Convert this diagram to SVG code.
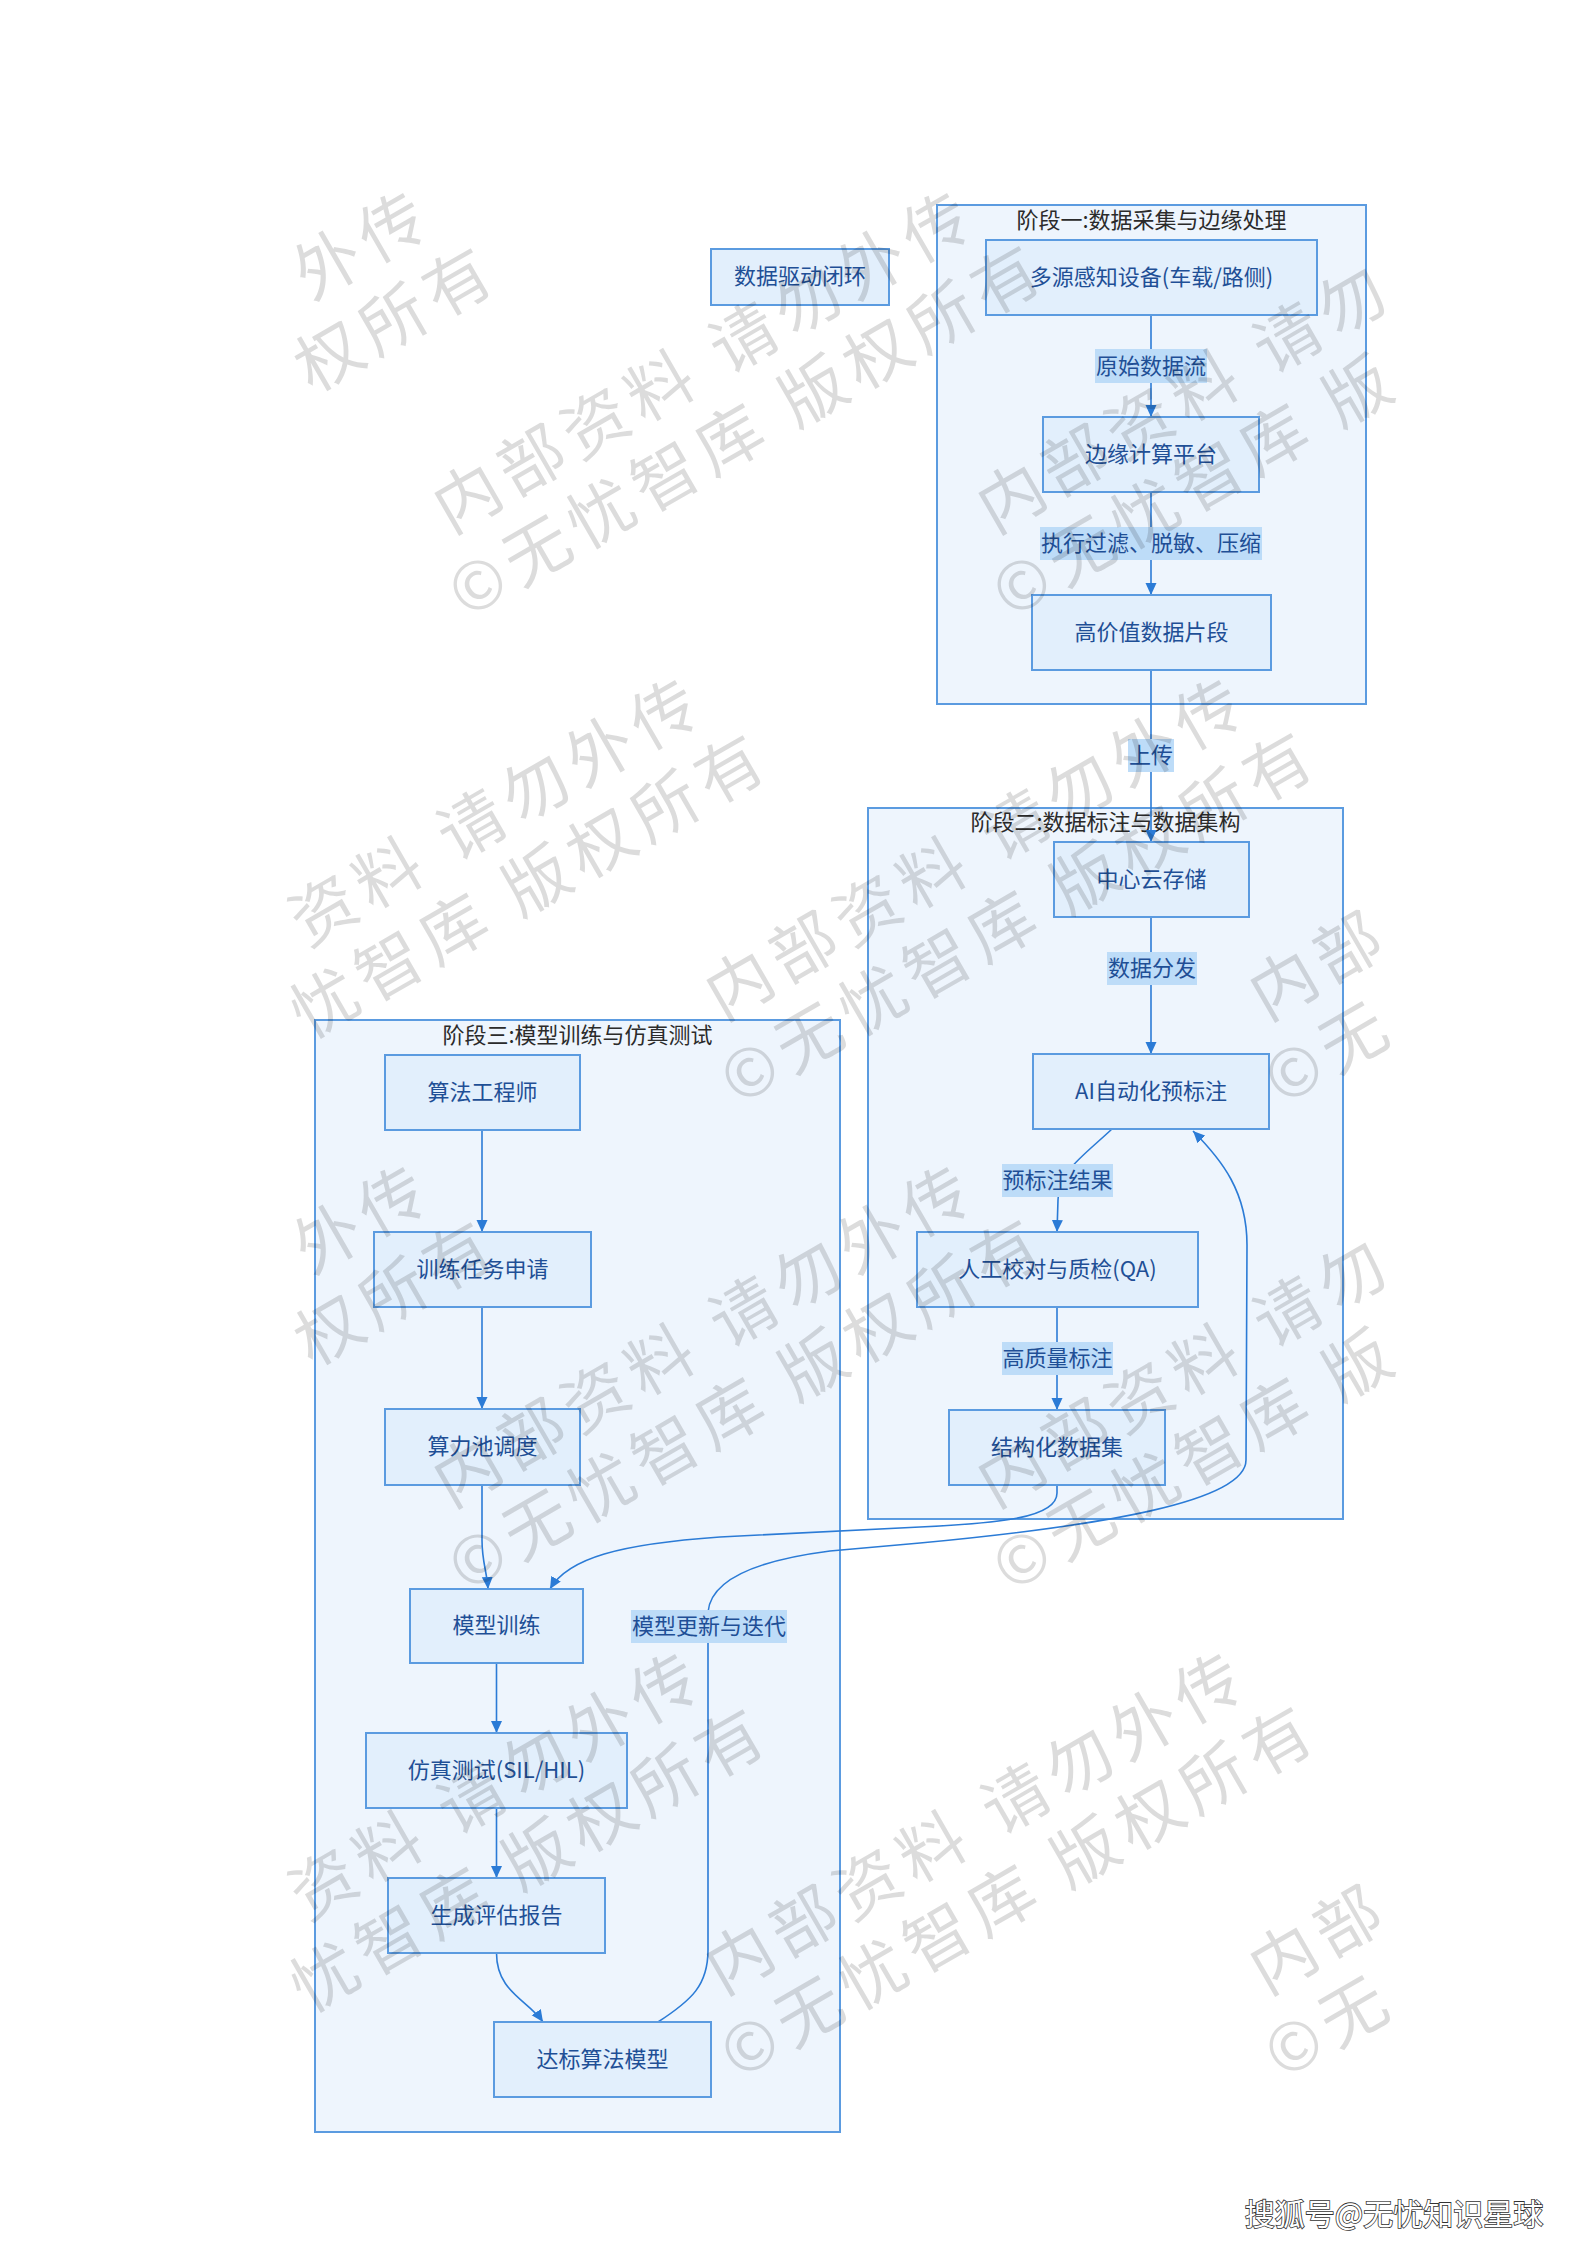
<svg xmlns="http://www.w3.org/2000/svg" width="1587" height="2245" viewBox="0 0 1587 2245">
<style>
text{font-family:"Noto Sans CJK SC","Noto Sans",sans-serif;}
.cl{fill:#eef5fd;stroke:#5b9be0;stroke-width:2;}
.ct{font-size:22px;fill:#2b2b2b;text-anchor:middle;dominant-baseline:central;}
.nd{fill:#e2effc;stroke:#5b9be0;stroke-width:2;}
.nt{font-size:22px;fill:#1f4f96;text-anchor:middle;dominant-baseline:central;}
.ed{fill:none;stroke:#2b7bd6;stroke-width:1.6;}
.lb{fill:#bddcf8;}
.lt{font-size:22px;fill:#1f4f96;text-anchor:middle;dominant-baseline:central;}
.wm text{font-size:66px;fill:#000;dominant-baseline:central;letter-spacing:8px;}
</style>
<defs>
<marker id="arr" viewBox="0 0 12 12" refX="12" refY="6" markerWidth="12" markerHeight="12" orient="auto" markerUnits="userSpaceOnUse">
<path d="M0,0.5 L12,6 L0,11.5 z" fill="#2b7bd6"/>
</marker>
</defs>
<rect width="1587" height="2245" fill="#ffffff"/>

<g id="clusters">
<g id="stage1"><rect class="cl" x="937" y="205" width="429" height="499"/><text class="ct" x="1151.5" y="218">阶段一:数据采集与边缘处理</text></g>
<g id="stage2"><rect class="cl" x="868" y="808" width="475" height="711"/><text class="ct" x="1105.5" y="820">阶段二:数据标注与数据集构</text></g>
<g id="stage3"><rect class="cl" x="315" y="1020" width="525" height="1112"/><text class="ct" x="577.5" y="1033">阶段三:模型训练与仿真测试</text></g>
</g>

<g id="connectors">
<path class="ed" d="M1151,315 L1151,417" marker-end="url(#arr)"/>
<path class="ed" d="M1151,492 L1151,595" marker-end="url(#arr)"/>
<path class="ed" d="M1151,670 L1151,842" marker-end="url(#arr)"/>
<path class="ed" d="M1151,917 L1151,1054" marker-end="url(#arr)"/>
<path class="ed" d="M1112,1129 C1082,1157 1058,1172 1058,1200 L1057,1232" marker-end="url(#arr)"/>
<path class="ed" d="M1057,1307 L1057,1410" marker-end="url(#arr)"/>
<path class="ed" d="M1057,1485 L1057,1493 C1057,1518 1000,1523 920,1527 L720,1537 C620,1544 568,1558 550,1589" marker-end="url(#arr)"/>
<path class="ed" d="M658,2022 C692,2000 708,1985 708,1950 L708,1612 C711,1578 760,1560 830,1551 L920,1543 C1100,1526 1246,1502 1246,1460 L1247,1245 C1247,1192 1222,1160 1193,1131" marker-end="url(#arr)"/>
<path class="ed" d="M482,1130 L482,1232" marker-end="url(#arr)"/>
<path class="ed" d="M482,1307 L482,1409" marker-end="url(#arr)"/>
<path class="ed" d="M482,1485 L482,1540 C482,1562 487,1572 488,1589" marker-end="url(#arr)"/>
<path class="ed" d="M496.5,1663 L496.5,1733" marker-end="url(#arr)"/>
<path class="ed" d="M496.5,1808 L496.5,1878" marker-end="url(#arr)"/>
<path class="ed" d="M496.5,1953 C496.5,1992 528,2000 543,2022" marker-end="url(#arr)"/>
</g>

<g id="edge-labels">
<g><rect class="lb" x="1095" y="349" width="112" height="34"/><text class="lt" x="1151" y="363.5">原始数据流</text></g>
<g><rect class="lb" x="1040" y="527" width="222" height="33"/><text class="lt" x="1151" y="541">执行过滤、脱敏、压缩</text></g>
<g><rect class="lb" x="1128" y="739" width="46" height="33"/><text class="lt" x="1151" y="753">上传</text></g>
<g><rect class="lb" x="1107" y="952" width="90" height="33"/><text class="lt" x="1152" y="966">数据分发</text></g>
<g><rect class="lb" x="1002" y="1164" width="111" height="33"/><text class="lt" x="1057.5" y="1178">预标注结果</text></g>
<g><rect class="lb" x="1002" y="1342" width="111" height="33"/><text class="lt" x="1057.5" y="1356">高质量标注</text></g>
<g><rect class="lb" x="631" y="1610" width="156" height="33"/><text class="lt" x="709" y="1624">模型更新与迭代</text></g>
</g>

<g id="nodes">
<g id="n-loop"><rect class="nd" x="711" y="249" width="178" height="56"/><text class="nt" x="800" y="274">数据驱动闭环</text></g>
<g id="n-sensor"><rect class="nd" x="986" y="240" width="331" height="75"/><text class="nt" x="1151.5" y="274.5">多源感知设备(车载/路侧)</text></g>
<g id="n-edge"><rect class="nd" x="1043" y="417" width="216" height="75"/><text class="nt" x="1151" y="451.5">边缘计算平台</text></g>
<g id="n-highvalue"><rect class="nd" x="1032" y="595" width="239" height="75"/><text class="nt" x="1151.5" y="629.5">高价值数据片段</text></g>
<g id="n-cloud"><rect class="nd" x="1054" y="842" width="195" height="75"/><text class="nt" x="1151.5" y="876.5">中心云存储</text></g>
<g id="n-ai"><rect class="nd" x="1033" y="1054" width="236" height="75"/><text class="nt" x="1151" y="1088.5">AI自动化预标注</text></g>
<g id="n-qa"><rect class="nd" x="917" y="1232" width="281" height="75"/><text class="nt" x="1057.5" y="1266.5">人工校对与质检(QA)</text></g>
<g id="n-dataset"><rect class="nd" x="949" y="1410" width="216" height="75"/><text class="nt" x="1057" y="1444.5">结构化数据集</text></g>
<g id="n-engineer"><rect class="nd" x="385" y="1055" width="195" height="75"/><text class="nt" x="482.5" y="1089.5">算法工程师</text></g>
<g id="n-request"><rect class="nd" x="374" y="1232" width="217" height="75"/><text class="nt" x="482.5" y="1266.5">训练任务申请</text></g>
<g id="n-pool"><rect class="nd" x="385" y="1409" width="195" height="76"/><text class="nt" x="482.5" y="1444">算力池调度</text></g>
<g id="n-train"><rect class="nd" x="410" y="1589" width="173" height="74"/><text class="nt" x="496.5" y="1623">模型训练</text></g>
<g id="n-sim"><rect class="nd" x="366" y="1733" width="261" height="75"/><text class="nt" x="496.5" y="1767.5">仿真测试(SIL/HIL)</text></g>
<g id="n-report"><rect class="nd" x="388" y="1878" width="217" height="75"/><text class="nt" x="496.5" y="1912.5">生成评估报告</text></g>
<g id="n-model"><rect class="nd" x="494" y="2022" width="217" height="75"/><text class="nt" x="602.5" y="2056.5">达标算法模型</text></g>
</g>

<g class="wm" opacity="0.14">
<g transform="translate(158,356) rotate(-30)"><text x="159.8" y="0">外传</text><text x="114.8" y="81">权所有</text></g>
<g transform="translate(702,356) rotate(-30)"><text x="-307" y="0">内部资料 请勿外传</text><text x="-336" y="81">©无忧智库 版权所有</text></g>
<g transform="translate(1246,356) rotate(-30)"><text x="-307" y="0">内部资料 请勿</text><text x="-336" y="81">©无忧智库 版</text></g>
<g transform="translate(430,843) rotate(-30)"><text x="-159" y="0">资料 请勿外传</text><text x="-204" y="81">忧智库 版权所有</text></g>
<g transform="translate(974,843) rotate(-30)"><text x="-307" y="0">内部资料 请勿外传</text><text x="-336" y="81">©无忧智库 版权所有</text></g>
<g transform="translate(1518,843) rotate(-30)"><text x="-307" y="0">内部</text><text x="-336" y="81">©无</text></g>
<g transform="translate(158,1330) rotate(-30)"><text x="159.8" y="0">外传</text><text x="114.8" y="81">权所有</text></g>
<g transform="translate(702,1330) rotate(-30)"><text x="-307" y="0">内部资料 请勿外传</text><text x="-336" y="81">©无忧智库 版权所有</text></g>
<g transform="translate(1246,1330) rotate(-30)"><text x="-307" y="0">内部资料 请勿</text><text x="-336" y="81">©无忧智库 版</text></g>
<g transform="translate(430,1817) rotate(-30)"><text x="-159" y="0">资料 请勿外传</text><text x="-204" y="81">忧智库 版权所有</text></g>
<g transform="translate(974,1817) rotate(-30)"><text x="-307" y="0">内部资料 请勿外传</text><text x="-336" y="81">©无忧智库 版权所有</text></g>
<g transform="translate(1518,1817) rotate(-30)"><text x="-307" y="0">内部</text><text x="-336" y="81">©无</text></g>
</g>

<text x="1394" y="2212" font-size="30" fill="#ffffff" stroke="#333333" stroke-width="1.6" paint-order="stroke" text-anchor="middle" dominant-baseline="central">搜狐号@无忧知识星球</text>
</svg>
